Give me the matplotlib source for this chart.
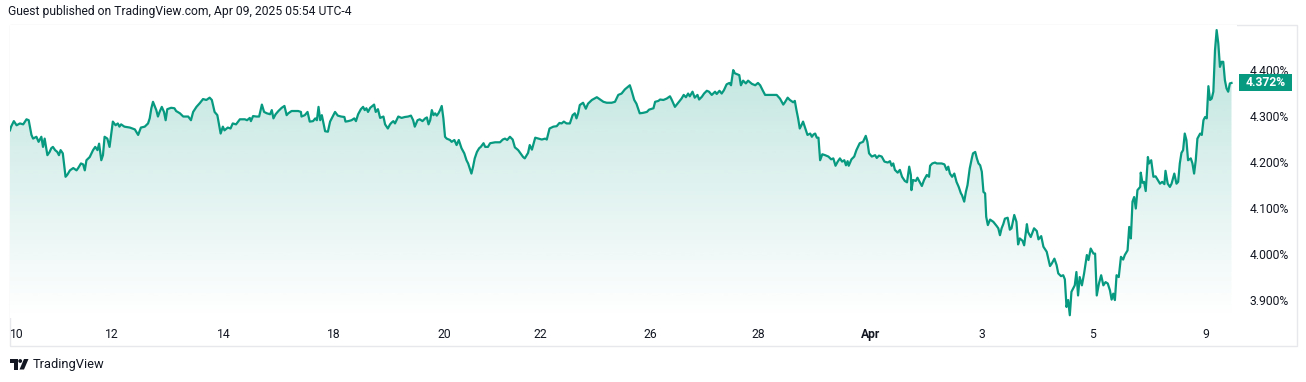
import matplotlib.pyplot as plt
import numpy as np
from matplotlib.colors import to_rgb
from matplotlib.patches import Circle, Polygon, Rectangle
from matplotlib.transforms import blended_transform_factory

plt.rcParams["font.family"] = ["Roboto", "DejaVu Sans"]

LINE = "#089981"
TEXT = "#131722"
BORDER = "#e6e8ec"

# x: trading days from the left edge of the chart, y: yield in %
days_w1 = [0.00, 0.02, 0.07, 0.12, 0.18, 0.24, 0.30, 0.34, 0.39, 0.42, 0.48, 0.52,
           0.57, 0.60, 0.63, 0.68, 0.72, 0.75, 0.78, 0.82, 0.86, 0.89, 0.92, 0.96,
           1.01, 1.04, 1.09, 1.15, 1.21, 1.24, 1.29, 1.33, 1.36, 1.39, 1.45, 1.51,
           1.55, 1.59, 1.62, 1.66, 1.69, 1.72, 1.77, 1.81, 1.87, 1.92, 1.96, 1.99,
           2.02, 2.08, 2.18, 2.27, 2.33, 2.38, 2.45, 2.51, 2.54, 2.57, 2.60, 2.66,
           2.69, 2.72, 2.76, 2.80, 2.83, 2.86, 2.93, 2.99, 3.02, 3.09, 3.15, 3.24,
           3.29, 3.33, 3.39, 3.45, 3.51, 3.57, 3.63, 3.67, 3.72, 3.77, 3.83, 3.87,
           3.90, 3.96, 4.01, 4.05, 4.11, 4.18, 4.27, 4.31, 4.36, 4.38, 4.42, 4.48]
yld_w1 = [4.269, 4.277, 4.289, 4.280, 4.284, 4.282, 4.293, 4.291, 4.259, 4.251, 4.255, 4.244,
          4.255, 4.233, 4.251, 4.215, 4.222, 4.230, 4.233, 4.226, 4.222, 4.215, 4.226, 4.219,
          4.168, 4.172, 4.182, 4.187, 4.182, 4.187, 4.197, 4.195, 4.182, 4.204, 4.211, 4.226,
          4.233, 4.226, 4.240, 4.204, 4.215, 4.255, 4.251, 4.233, 4.288, 4.280, 4.284, 4.277,
          4.282, 4.277, 4.275, 4.271, 4.259, 4.275, 4.277, 4.284, 4.295, 4.317, 4.331, 4.313,
          4.299, 4.309, 4.320, 4.309, 4.291, 4.315, 4.318, 4.317, 4.311, 4.306, 4.299, 4.299,
          4.291, 4.309, 4.320, 4.328, 4.337, 4.335, 4.340, 4.335, 4.309, 4.302, 4.262, 4.277,
          4.269, 4.275, 4.273, 4.284, 4.282, 4.293, 4.293, 4.291, 4.296, 4.289, 4.300, 4.299]

days_w2 = [4.53, 4.58, 4.62, 4.67, 4.73, 4.76, 4.79, 4.83, 4.88, 4.94, 4.99, 5.03,
           5.06, 5.12, 5.24, 5.29, 5.30, 5.36, 5.41, 5.45, 5.51, 5.55, 5.58, 5.61,
           5.64, 5.67, 5.70, 5.73, 5.78, 5.82, 5.88, 5.91, 5.96, 6.02, 6.08, 6.10,
           6.15, 6.21, 6.26, 6.29, 6.33, 6.38, 6.42, 6.45, 6.48, 6.51, 6.55, 6.59,
           6.62, 6.65, 6.69, 6.73, 6.79, 6.82, 6.87, 6.91, 6.94, 6.97, 7.00, 7.06,
           7.12, 7.18, 7.24, 7.29, 7.33, 7.36, 7.41, 7.45, 7.50, 7.55, 7.58, 7.61,
           7.64, 7.67, 7.70, 7.73, 7.76, 7.79, 7.82, 7.85, 7.88, 7.91, 7.94, 8.00,
           8.03, 8.08, 8.12, 8.16, 8.21, 8.26, 8.30, 8.33, 8.36, 8.39, 8.42, 8.45,
           8.49, 8.53, 8.56, 8.61, 8.64, 8.69, 8.73, 8.82, 8.91]
yld_w2 = [4.299, 4.325, 4.309, 4.306, 4.304, 4.313, 4.295, 4.304, 4.311, 4.318, 4.322, 4.302,
          4.306, 4.311, 4.311, 4.309, 4.299, 4.302, 4.309, 4.288, 4.289, 4.295, 4.291, 4.320,
          4.291, 4.302, 4.284, 4.267, 4.266, 4.288, 4.302, 4.309, 4.301, 4.299, 4.298, 4.288,
          4.289, 4.291, 4.295, 4.289, 4.304, 4.315, 4.320, 4.313, 4.317, 4.309, 4.318, 4.322,
          4.325, 4.309, 4.315, 4.296, 4.299, 4.282, 4.273, 4.282, 4.286, 4.289, 4.284, 4.299,
          4.296, 4.298, 4.299, 4.301, 4.291, 4.277, 4.291, 4.293, 4.289, 4.295, 4.297, 4.282,
          4.291, 4.313, 4.302, 4.306, 4.301, 4.306, 4.313, 4.322, 4.295, 4.255, 4.251, 4.248,
          4.244, 4.248, 4.237, 4.248, 4.230, 4.219, 4.204, 4.197, 4.186, 4.175, 4.190, 4.208,
          4.222, 4.230, 4.233, 4.241, 4.233, 4.233, 4.241, 4.243, 4.243]

days_w3 = [8.96, 9.00, 9.04, 9.09, 9.14, 9.18, 9.24, 9.33, 9.36, 9.42, 9.45, 9.49,
           9.55, 9.61, 9.67, 9.73, 9.76, 9.81, 9.88, 9.94, 9.99, 10.03, 10.07, 10.12,
           10.18, 10.23, 10.27, 10.30, 10.33, 10.36, 10.42, 10.47, 10.51, 10.58, 10.67, 10.73,
           10.79, 10.85, 10.94, 11.00, 11.06, 11.12, 11.18, 11.24, 11.27, 11.30, 11.35, 11.39,
           11.45, 11.51, 11.58, 11.62, 11.70, 11.73, 11.79, 11.82, 11.88, 11.94, 12.00, 12.03,
           12.09, 12.15, 12.21, 12.25, 12.29, 12.33, 12.36, 12.41, 12.45, 12.50, 12.53, 12.58,
           12.62, 12.67, 12.71, 12.76, 12.82, 12.85, 12.90, 12.94, 12.98, 13.03, 13.08, 13.11,
           13.15, 13.18, 13.22, 13.26, 13.29, 13.33, 13.38, 13.42, 13.49, 13.55, 13.60, 13.64,
           13.69]
yld_w3 = [4.249, 4.251, 4.248, 4.255, 4.249, 4.232, 4.226, 4.211, 4.208, 4.220, 4.237, 4.227,
          4.253, 4.251, 4.249, 4.251, 4.249, 4.273, 4.277, 4.278, 4.285, 4.284, 4.288, 4.284,
          4.284, 4.302, 4.306, 4.295, 4.306, 4.324, 4.329, 4.316, 4.327, 4.335, 4.341, 4.336,
          4.331, 4.329, 4.329, 4.331, 4.346, 4.349, 4.358, 4.364, 4.367, 4.356, 4.335, 4.327,
          4.306, 4.307, 4.309, 4.314, 4.317, 4.331, 4.333, 4.336, 4.335, 4.338, 4.343, 4.336,
          4.320, 4.329, 4.338, 4.346, 4.341, 4.349, 4.343, 4.353, 4.340, 4.346, 4.336, 4.342,
          4.349, 4.355, 4.353, 4.346, 4.353, 4.348, 4.355, 4.349, 4.356, 4.369, 4.372, 4.367,
          4.400, 4.393, 4.391, 4.389, 4.367, 4.377, 4.371, 4.377, 4.370, 4.367, 4.372, 4.367,
          4.355]

days_w4 = [13.73, 13.94, 14.00, 14.06, 14.09, 14.14, 14.18, 14.24, 14.27, 14.30, 14.33, 14.36,
           14.39, 14.42, 14.45, 14.50, 14.55, 14.58, 14.61, 14.64, 14.67, 14.70, 14.73, 14.77,
           14.82, 14.88, 14.93, 14.97, 15.01, 15.05, 15.09, 15.13, 15.17, 15.20, 15.23, 15.25,
           15.30, 15.35, 15.39, 15.45, 15.51, 15.56, 15.59, 15.62, 15.67, 15.73, 15.76, 15.80,
           15.85, 15.90, 15.96, 16.00, 16.03, 16.06, 16.09, 16.14, 16.18, 16.22, 16.27, 16.31,
           16.35, 16.38, 16.39, 16.42, 16.47, 16.50, 16.53, 16.58, 16.62, 16.67, 16.71, 16.73,
           16.77, 16.82, 16.85, 16.94, 16.99, 17.03, 17.06, 17.09, 17.13, 17.17, 17.21, 17.25,
           17.29, 17.31, 17.35, 17.38, 17.41, 17.45, 17.49, 17.51, 17.55, 17.58, 17.61, 17.64,
           17.67, 17.70]
yld_w4 = [4.346, 4.346, 4.338, 4.325, 4.330, 4.340, 4.335, 4.330, 4.333, 4.313, 4.295, 4.273,
          4.280, 4.288, 4.277, 4.259, 4.262, 4.255, 4.260, 4.262, 4.253, 4.253, 4.204, 4.217,
          4.215, 4.212, 4.206, 4.208, 4.192, 4.201, 4.208, 4.201, 4.204, 4.193, 4.202, 4.192,
          4.206, 4.212, 4.226, 4.241, 4.244, 4.257, 4.244, 4.219, 4.212, 4.215, 4.209, 4.214,
          4.212, 4.201, 4.199, 4.202, 4.192, 4.197, 4.183, 4.177, 4.183, 4.168, 4.159, 4.156,
          4.190, 4.172, 4.139, 4.161, 4.159, 4.166, 4.159, 4.148, 4.161, 4.172, 4.168, 4.192,
          4.197, 4.199, 4.197, 4.197, 4.195, 4.183, 4.190, 4.175, 4.168, 4.175, 4.157, 4.146,
          4.132, 4.128, 4.114, 4.135, 4.150, 4.186, 4.209, 4.219, 4.222, 4.208, 4.197, 4.193,
          4.179, 4.135]

days_w5 = [17.73, 17.75, 17.78, 17.82, 17.88, 17.94, 17.97, 18.00, 18.03, 18.06, 18.09, 18.14,
           18.18, 18.21, 18.26, 18.30, 18.33, 18.36, 18.41, 18.44, 18.49, 18.51, 18.56, 18.62,
           18.67, 18.70, 18.75, 18.79, 18.85, 18.91, 18.94, 18.99, 19.03, 19.06, 19.11, 19.15,
           19.18, 19.21, 19.24, 19.27, 19.30, 19.33, 19.36, 19.39, 19.42, 19.45, 19.49, 19.53,
           19.58, 19.61, 19.65, 19.70, 19.73, 19.76, 19.80, 19.84, 19.88, 19.92, 19.96, 20.00,
           20.03, 20.06, 20.09, 20.12, 20.16, 20.20, 20.24, 20.27, 20.32, 20.35, 20.38, 20.41,
           20.44, 20.47, 20.50, 20.55, 20.56, 20.59, 20.62, 20.65, 20.69, 20.71, 20.75, 20.79,
           20.83, 20.87, 20.91, 20.95, 20.99, 21.01, 21.05, 21.09, 21.12, 21.17, 21.21, 21.24,
           21.27, 21.30, 21.33, 21.36, 21.39, 21.42, 21.47, 21.50, 21.53, 21.56, 21.59, 21.64,
           21.67, 21.70, 21.73, 21.76, 21.79, 21.82, 21.85, 21.88, 21.91, 21.94, 21.97, 22.00,
           22.03, 22.06, 22.09, 22.12, 22.15, 22.18, 22.21]
yld_w5 = [4.132, 4.081, 4.063, 4.075, 4.070, 4.061, 4.056, 4.041, 4.056, 4.065, 4.077, 4.079,
          4.053, 4.056, 4.085, 4.070, 4.021, 4.034, 4.029, 4.019, 4.065, 4.048, 4.037, 4.056,
          4.050, 4.032, 4.039, 4.016, 4.005, 3.974, 3.979, 3.990, 3.976, 3.958, 3.952, 3.954,
          3.945, 3.885, 3.900, 3.867, 3.918, 3.925, 3.932, 3.961, 3.910, 3.950, 3.932, 3.958,
          3.998, 3.987, 4.012, 4.001, 4.001, 3.910, 3.936, 3.954, 3.932, 3.939, 3.936, 3.921,
          3.901, 3.914, 3.900, 3.954, 3.950, 3.994, 3.988, 3.998, 4.008, 4.059, 4.034, 4.114,
          4.124, 4.099, 4.139, 4.146, 4.177, 4.155, 4.157, 4.137, 4.211, 4.197, 4.204, 4.168,
          4.169, 4.161, 4.153, 4.157, 4.152, 4.181, 4.153, 4.146, 4.153, 4.175, 4.153, 4.157,
          4.197, 4.220, 4.226, 4.262, 4.248, 4.204, 4.208, 4.197, 4.175, 4.204, 4.251, 4.262,
          4.259, 4.291, 4.298, 4.295, 4.365, 4.335, 4.338, 4.353, 4.443, 4.487, 4.458, 4.407,
          4.418, 4.418, 4.378, 4.360, 4.353, 4.371, 4.372]

tick_days = [0.13, 1.85, 3.89, 5.89, 7.89, 9.65, 11.64, 13.60, 15.64, 17.67, 19.69, 21.75]
tick_labels = ["10", "12", "14", "18", "20", "22", "26", "28", "Apr", "3", "5", "9"]
price_ticks = [3.9, 4.0, 4.1, 4.2, 4.3, 4.4]

header = "Guest published on TradingView.com, Apr 09, 2025 05:54 UTC-4"

x = np.concatenate([days_w1, days_w2, days_w3, days_w4, days_w5])
y = np.concatenate([yld_w1, yld_w2, yld_w3, yld_w4, yld_w5])
assert len(x) == len(y)
last_value = y[-1]

W, H = 1306, 382
fig = plt.figure(figsize=(W / 100, H / 100), dpi=100, facecolor="white")


def px_rect(left, top, right, bottom):
    return [left / W, 1 - bottom / H, (right - left) / W, (bottom - top) / H]


ax = fig.add_axes(px_rect(10, 25, 1237, 318))
x_lo, x_hi = 0.0, 22.31
y_lo, y_hi = 3.861, 4.498
ax.set_xlim(x_lo, x_hi)
ax.set_ylim(y_lo, y_hi)

# area with vertical gradient
ax.plot(x, y, color=LINE, lw=1.6, solid_joinstyle="round", zorder=3)
verts = np.column_stack([np.r_[x[0], x, x[-1]], np.r_[y_lo, y, y_lo]])
clip = Polygon(verts, closed=True, facecolor="none", edgecolor="none")
ax.add_patch(clip)
grad = np.zeros((256, 1, 4))
grad[..., :3] = to_rgb(LINE)
grad[:, 0, 3] = np.linspace(0.28, 0.0, 256)
im = ax.imshow(grad, extent=[x_lo, x_hi, y_lo, y_hi], aspect="auto",
               origin="upper", zorder=2, interpolation="bilinear")
im.set_clip_path(clip)

for s in ax.spines.values():
    s.set_visible(False)

ax.set_xticks(tick_days, tick_labels)
ax.tick_params(axis="x", length=0, pad=7, labelsize=8.7, labelcolor=TEXT)
for lbl in ax.get_xticklabels():
    if lbl.get_text() == "Apr":
        lbl.set_fontweight("bold")

ax.yaxis.tick_right()
ax.set_yticks(price_ticks, [f"{v:.3f}%" for v in price_ticks])
ax.tick_params(axis="y", length=0, pad=9, labelsize=8.7, labelcolor=TEXT)

# last value tag on the price scale
trans = blended_transform_factory(ax.transAxes, ax.transData)
tag_h = 17 / 293 * (y_hi - y_lo)
ax.add_patch(Rectangle((1.0016, last_value - tag_h / 2), 0.0432, tag_h,
                       transform=trans, facecolor=LINE, edgecolor="none",
                       clip_on=False, zorder=5))
ax.text(1.0232, last_value, f"{last_value:.3f}%", transform=trans,
        ha="center", va="center", fontsize=8.7, fontweight="bold",
        color="white", zorder=6, clip_on=False)

# pane border, header, logo
deco = fig.add_axes([0, 0, 1, 1], zorder=-1)
deco.set_xlim(0, W)
deco.set_ylim(H, 0)
deco.axis("off")
deco.add_patch(Rectangle((10, 25), 1287, 321, fill=False, edgecolor=BORDER, lw=1))

fig.text(8 / W, 1 - 12 / H, header, ha="left", va="center", fontsize=8.7, color=TEXT)

logo = fig.add_axes([0, 0, 1, 1], zorder=5)
logo.set_xlim(0, W)
logo.set_ylim(H, 0)
logo.axis("off")
logo.add_patch(Rectangle((10, 359), 7.5, 4, facecolor=TEXT, edgecolor="none"))
logo.add_patch(Rectangle((13.5, 359), 4, 10.5, facecolor=TEXT, edgecolor="none"))
logo.add_patch(Circle((20.2, 361), 1.9, facecolor=TEXT, edgecolor="none"))
logo.add_patch(Polygon([(24, 359), (28.5, 359), (24, 369.5), (19.5, 369.5)],
                       closed=True, facecolor=TEXT, edgecolor="none"))
logo.text(33, 364.5, "TradingView", ha="left", va="center", fontsize=9.3, color=TEXT)

fig.savefig("out.png", dpi=100, facecolor="white")
